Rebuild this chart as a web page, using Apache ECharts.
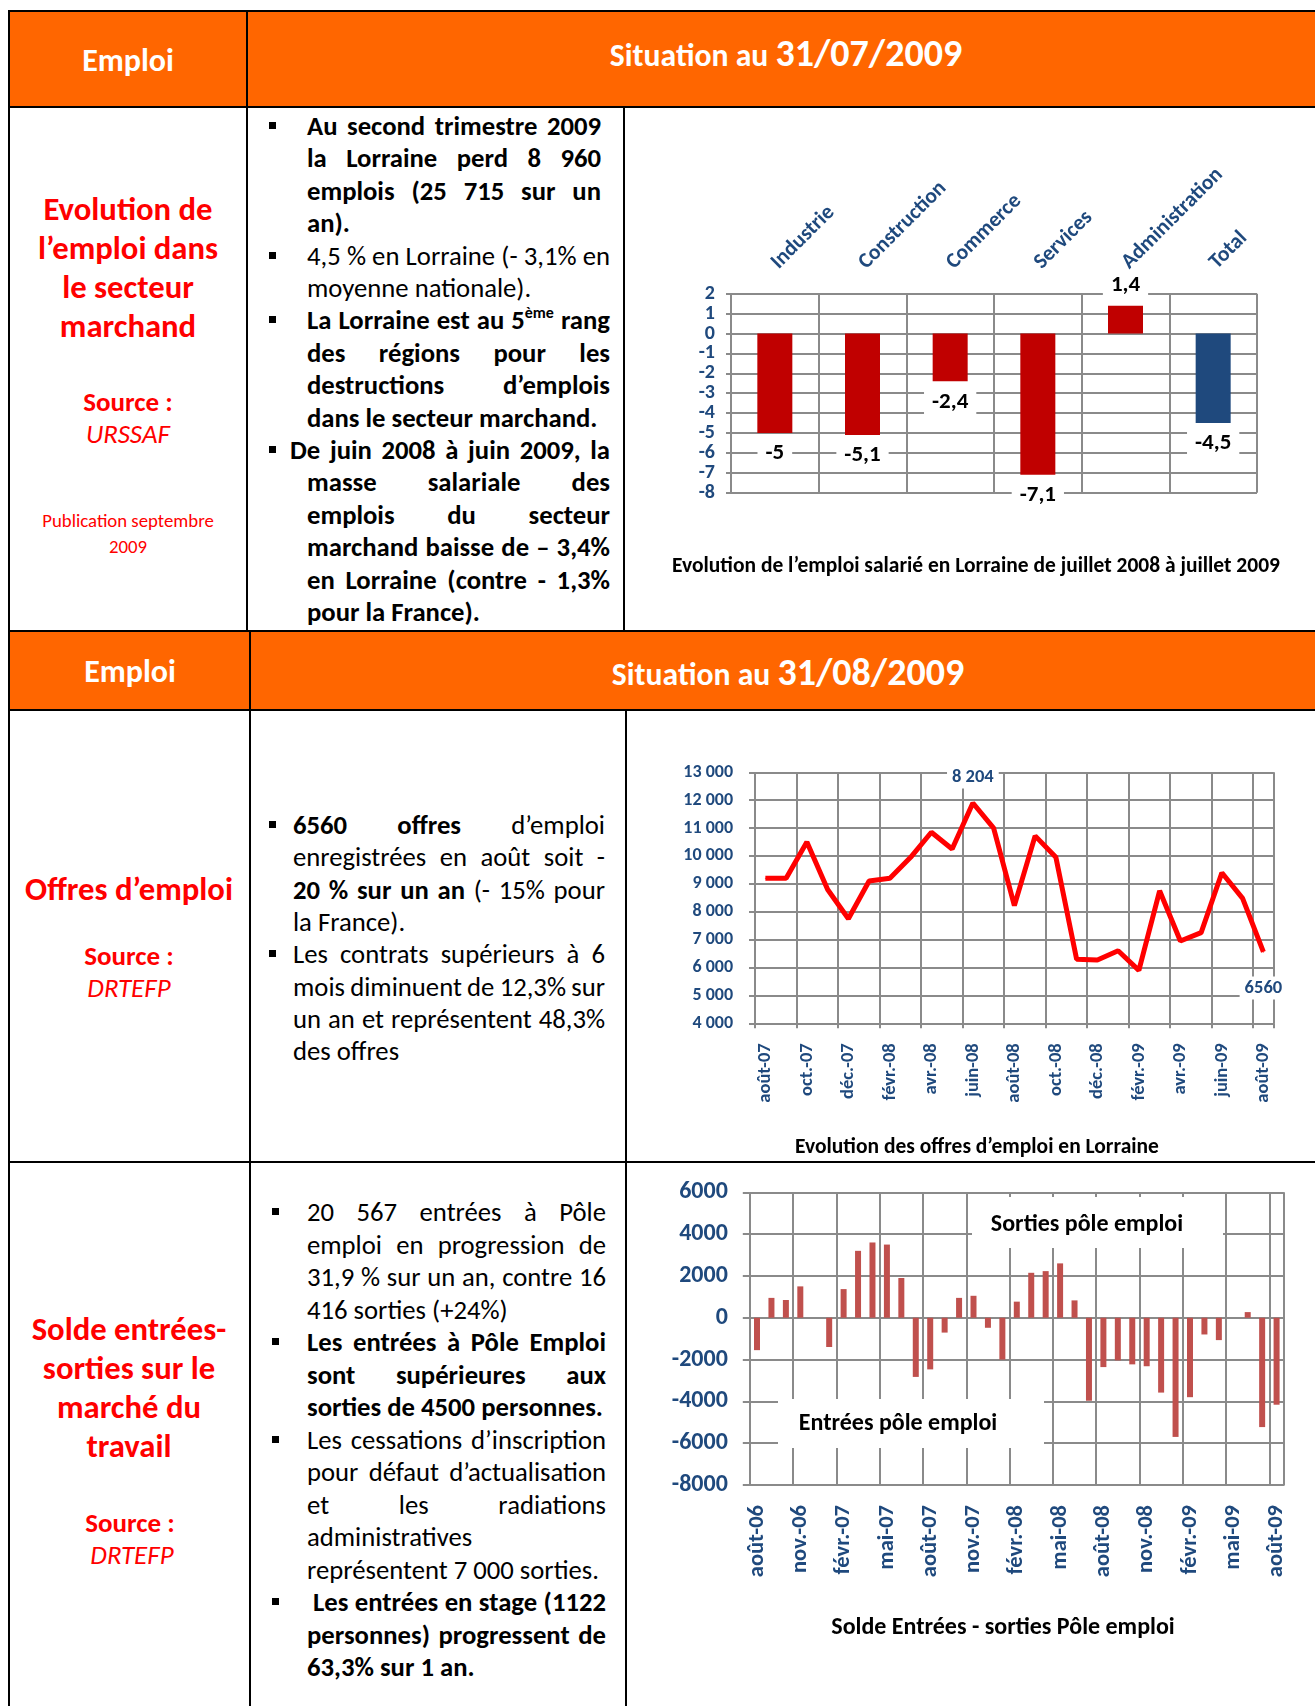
<!DOCTYPE html>
<html lang="fr">
<head>
<meta charset="utf-8">
<title>Emploi en Lorraine – 2009</title>
<script src="https://cdn.jsdelivr.net/npm/echarts@6/dist/echarts.min.js"></script>
<style>
  html, body { margin: 0; padding: 0; background: #fff; }
  body { width: 1315px; height: 1706px; position: relative; overflow: hidden;
         font-family: Carlito, Lato, "Open Sans", sans-serif; color: #000; }
  .orange { position: absolute; background: #ff6600; }
  .trait { position: absolute; background: #000; }
  .c { position: absolute; transform: translate(-50%, -50%); white-space: nowrap; text-align: center; line-height: 1; }
  .rouge { color: #ff0000; }
  .blanc { color: #fff; font-weight: bold; }
  .ln { position: absolute; white-space: nowrap; font-size: 26.7px; line-height: 32px; }
  .puce { position: absolute; width: 7px; height: 7px; background: #000; }
  .graph { position: absolute; }
  sup { font-size: 16px; line-height: 0; vertical-align: 11px; }
</style>
</head>
<body>

<!-- en-têtes orange -->
<div class="orange" style="left:9px;top:11px;width:1306px;height:96px"></div>
<div class="orange" style="left:9px;top:631px;width:1306px;height:79px"></div>

<!-- traits du tableau -->
<div class="trait" style="left:8px;top:10px;width:1307px;height:2px"></div>
<div class="trait" style="left:8px;top:106px;width:1307px;height:2px"></div>
<div class="trait" style="left:8px;top:630px;width:1307px;height:2px"></div>
<div class="trait" style="left:8px;top:709px;width:1307px;height:2px"></div>
<div class="trait" style="left:8px;top:1161px;width:1307px;height:2px"></div>
<div class="trait" style="left:8px;top:10px;width:2px;height:1696px"></div>
<div class="trait" style="left:246px;top:10px;width:2px;height:621px"></div>
<div class="trait" style="left:623px;top:107px;width:2px;height:524px"></div>
<div class="trait" style="left:249px;top:631px;width:2px;height:1075px"></div>
<div class="trait" style="left:625px;top:710px;width:2px;height:996px"></div>

<!-- textes des en-têtes -->
<div class="c blanc" style="left:128px;top:61px;font-size:32px">Emploi</div>
<div class="c blanc" style="left:786px;top:53px;font-size:31.7px">Situation au <span style="font-size:38px">31/07/2009</span></div>
<div class="c blanc" style="left:130px;top:672px;font-size:32px">Emploi</div>
<div class="c blanc" style="left:788px;top:672px;font-size:31.7px">Situation au <span style="font-size:38px">31/08/2009</span></div>

<!-- colonne de gauche -->
<div class="c rouge" style="left:128px;top:209px;font-size:32.7px;font-weight:bold">Evolution de</div>
<div class="c rouge" style="left:128px;top:248px;font-size:32.7px;font-weight:bold">l’emploi dans</div>
<div class="c rouge" style="left:128px;top:287px;font-size:32.7px;font-weight:bold">le secteur</div>
<div class="c rouge" style="left:128px;top:326px;font-size:32.7px;font-weight:bold">marchand</div>
<div class="c rouge" style="left:128px;top:401px;font-size:27px;font-weight:bold">Source :</div>
<div class="c rouge" style="left:128px;top:433px;font-size:27px;font-style:italic">URSSAF</div>
<div class="c rouge" style="left:128px;top:521px;font-size:18.8px">Publication septembre</div>
<div class="c rouge" style="left:128px;top:547px;font-size:18.8px">2009</div>

<div class="c rouge" style="left:129px;top:889px;font-size:32.7px;font-weight:bold">Offres d’emploi</div>
<div class="c rouge" style="left:129px;top:955px;font-size:27px;font-weight:bold">Source :</div>
<div class="c rouge" style="left:129px;top:987px;font-size:27px;font-style:italic">DRTEFP</div>

<div class="c rouge" style="left:129px;top:1329px;font-size:32.7px;font-weight:bold">Solde entrées-</div>
<div class="c rouge" style="left:129px;top:1368px;font-size:32.7px;font-weight:bold">sorties sur le</div>
<div class="c rouge" style="left:129px;top:1407px;font-size:32.7px;font-weight:bold">marché du</div>
<div class="c rouge" style="left:129px;top:1446px;font-size:32.7px;font-weight:bold">travail</div>
<div class="c rouge" style="left:130px;top:1522px;font-size:27px;font-weight:bold">Source :</div>
<div class="c rouge" style="left:132px;top:1554px;font-size:27px;font-style:italic">DRTEFP</div>

<!-- graphiques -->
<div id="g1" class="graph" style="left:625px;top:108px;width:690px;height:522px"></div>
<div id="g2" class="graph" style="left:627px;top:711px;width:688px;height:450px"></div>
<div id="g3" class="graph" style="left:627px;top:1163px;width:688px;height:543px"></div>

<script>
// ─── Données ─────────────────────────────────────────────

// Evolution de l'emploi salarié (%), juillet 2008 → juillet 2009
const secteurs = ["Industrie", "Construction", "Commerce", "Services", "Administration", "Total"];
const evolEmploi = [-5, -5.1, -2.4, -7.1, 1.4, -4.5];

// Offres d'emploi enregistrées, août 2007 → août 2009
const moisOffres = [
  "août-07", "sept.-07", "oct.-07", "nov.-07", "déc.-07", "janv.-08", "févr.-08",
  "mars-08", "avr.-08", "mai-08", "juin-08", "juil.-08", "août-08", "sept.-08",
  "oct.-08", "nov.-08", "déc.-08", "janv.-09", "févr.-09", "mars-09", "avr.-09",
  "mai-09", "juin-09", "juil.-09", "août-09"
];
const offres = [
  9200, 9200, 10500, 8800, 7750, 9100, 9200, 9950, 10850, 10250, 11900, 11000, 8220,
  10720, 9950, 6300, 6270, 6600, 5900, 8750, 6950, 7250, 9400, 8480, 6560
];
// étiquettes affichées sur la courbe (indice → texte)
const offresEtiquettes = { 10: "8 204", 24: "6560" };

// Solde entrées - sorties Pôle emploi, août 2006 → août 2009
const moisSolde = [
  "août-06", "sept.-06", "oct.-06", "nov.-06", "déc.-06", "janv.-07", "févr.-07",
  "mars-07", "avr.-07", "mai-07", "juin-07", "juil.-07", "août-07", "sept.-07",
  "oct.-07", "nov.-07", "déc.-07", "janv.-08", "févr.-08", "mars-08", "avr.-08",
  "mai-08", "juin-08", "juil.-08", "août-08", "sept.-08", "oct.-08", "nov.-08",
  "déc.-08", "janv.-09", "févr.-09", "mars-09", "avr.-09", "mai-09", "juin-09",
  "juil.-09", "août-09"
];
const solde = [
  -1550, 950, 850, 1500, 0, -1400, 1370, 3200, 3600, 3500, 1900, -2830, -2470,
  -710, 950, 1050, -480, -2000, 770, 2150, 2230, 2600, 830, -3970, -2360, -2040,
  -2230, -2320, -3580, -5700, -3800, -800, -1070, 0, 270, -5230, -4160
];

// ─── Textes de la colonne du milieu ──────────────────────
// [texte, justifié]
const bloc1 = [
  { gauche: 307, droite: 601, gras: true, lignes: [
    ["Au second trimestre 2009", 1], ["la Lorraine perd 8 960", 1],
    ["emplois (25 715 sur un", 1], ["an).", 0]] },
  { gauche: 307, droite: 610, gras: false, lignes: [
    ["4,5 % en Lorraine (- 3,1% en", 1], ["moyenne nationale).", 0]] },
  { gauche: 307, droite: 610, gras: true, lignes: [
    ["La Lorraine est au 5<sup>ème</sup> rang", 1], ["des régions pour les", 1],
    ["destructions d’emplois", 1], ["dans le secteur marchand.", 0]] },
  { gauche: 307, premiere: 290, droite: 610, gras: true, lignes: [
    ["De juin 2008 à juin 2009, la", 1], ["masse salariale des", 1],
    ["emplois du secteur", 1], ["marchand baisse de – 3,4%", 1],
    ["en Lorraine (contre - 1,3%", 1], ["pour la France).", 0]] }
];
const bloc2 = [
  { gauche: 293, droite: 605, gras: false, lignes: [
    ["<b>6560</b> <b>offres</b> d’emploi", 1], ["enregistrées en août soit -", 1],
    ["<b>20 % sur un an</b> (- 15% pour", 1], ["la France).", 0]] },
  { gauche: 293, droite: 605, gras: false, lignes: [
    ["Les contrats supérieurs à 6", 1], ["mois diminuent de 12,3% sur", 1],
    ["un an et représentent 48,3%", 1], ["des offres", 0]] }
];
const bloc3 = [
  { gauche: 307, droite: 606, gras: false, lignes: [
    ["20 567 entrées à Pôle", 1], ["emploi en progression de", 1],
    ["31,9 % sur un an, contre 16", 1], ["416 sorties (+24%)", 0]] },
  { gauche: 307, droite: 606, gras: true, lignes: [
    ["Les entrées à Pôle Emploi", 1], ["sont supérieures aux", 1],
    ["sorties de 4500 personnes.", 0]] },
  { gauche: 307, droite: 606, gras: false, lignes: [
    ["Les cessations d’inscription", 1], ["pour défaut d’actualisation", 1],
    ["et les radiations", 1], ["administratives", 0], ["représentent 7 000 sorties.", 0]] },
  { gauche: 307, premiere: 313, droite: 606, gras: true, lignes: [
    ["Les entrées en stage (1122", 1], ["personnes) progressent de", 1],
    ["63,3% sur 1 an.", 0]] }
];

// pose les lignes d'un bloc puis justifie celles qui doivent l'être
function poserBloc(paras, y0, pas, puceX) {
  let y = y0;
  paras.forEach(p => {
    const puce = document.createElement("div");
    puce.className = "puce";
    puce.style.left = (puceX - 3.5) + "px";
    puce.style.top = (y - 4) + "px";
    document.body.appendChild(puce);
    p.lignes.forEach(([html, just], i) => {
      const el = document.createElement("div");
      el.className = "ln";
      const x = (i === 0 && p.premiere) ? p.premiere : p.gauche;
      el.style.left = x + "px";
      el.style.top = (y - 16) + "px";
      if (p.gras) el.style.fontWeight = "bold";
      el.innerHTML = html;
      document.body.appendChild(el);
      if (just) {
        const w = el.getBoundingClientRect().width;
        const n = el.textContent.trim().split(/\s+/).length - 1;
        if (n > 0) el.style.wordSpacing = ((p.droite - x - w) / n) + "px";
      }
      y += pas;
    });
  });
}
poserBloc(bloc1, 126, 32.4, 272);
poserBloc(bloc2, 825, 32.3, 272);
poserBloc(bloc3, 1212, 32.5, 275);

// ─── Graphiques ──────────────────────────────────────────

const FONT = 'Carlito, Lato, "Open Sans", sans-serif';
const BLEU = "#1f497d";
const GRILLE = { color: "#8a8a8a", width: 2 };

function milliers(v) {
  return String(v).replace(/\B(?=(\d{3})+(?!\d))/g, " ");
}

// 1. évolution de l'emploi par secteur
const c1 = echarts.init(document.getElementById("g1"), null, { renderer: "canvas" });
c1.setOption({
  animation: false,
  textStyle: { fontFamily: FONT },
  grid: { left: 106, top: 185.7, width: 526, height: 199 },
  xAxis: {
    type: "category", position: "top", data: secteurs,
    axisLine: { show: false }, axisTick: { show: false },
    splitLine: { show: true, lineStyle: GRILLE },
    axisLabel: { rotate: 45, margin: 28, color: BLEU, fontWeight: "bold", fontSize: 21.5, fontFamily: FONT }
  },
  yAxis: {
    type: "value", min: -8, max: 2, interval: 1,
    axisLine: { show: false },
    axisTick: { show: true, length: 5, lineStyle: GRILLE },
    splitLine: { lineStyle: GRILLE },
    axisLabel: {
      margin: 16, color: BLEU, fontWeight: "bold", fontSize: 20, fontFamily: FONT,
      showMinLabel: true, showMaxLabel: true
    }
  },
  series: [{
    type: "bar", barWidth: 35,
    data: evolEmploi.map((v, i) => ({
      value: v,
      itemStyle: { color: i === secteurs.length - 1 ? BLEU : "#c00000" },
      label: { position: v < 0 ? "bottom" : "top" }
    })),
    label: {
      show: true, distance: 6, color: "#000", fontWeight: "bold", fontSize: 23, fontFamily: FONT,
      backgroundColor: "#fff", padding: [3, 8],
      formatter: p => String(p.value).replace(".", ",")
    }
  }],
  graphic: [{
    type: "text", x: 351, y: 459,
    style: {
      text: "Evolution de l’emploi salarié en Lorraine de juillet 2008 à juillet 2009",
      align: "center", verticalAlign: "middle", fill: "#000",
      font: "bold 21.5px " + FONT
    }
  }]
});

// 2. offres d'emploi
const c2 = echarts.init(document.getElementById("g2"), null, { renderer: "canvas" });
c2.setOption({
  animation: false,
  textStyle: { fontFamily: FONT },
  grid: { left: 128, top: 61.3, width: 518.75, height: 251 },
  xAxis: {
    type: "category", data: moisOffres, boundaryGap: true,
    axisLine: { show: true, lineStyle: GRILLE },
    axisTick: { show: true, interval: 1, length: 5, lineStyle: GRILLE },
    splitLine: { show: true, interval: 1, lineStyle: GRILLE },
    axisLabel: { interval: 1, rotate: 90, margin: 20, color: BLEU, fontWeight: "bold", fontSize: 18.5, fontFamily: FONT }
  },
  yAxis: {
    type: "value", min: 4000, max: 13000, interval: 1000,
    axisLine: { show: false },
    axisTick: { show: true, length: 6, lineStyle: GRILLE },
    splitLine: { lineStyle: GRILLE },
    axisLabel: { margin: 22, color: BLEU, fontWeight: "bold", fontSize: 18, fontFamily: FONT, formatter: milliers }
  },
  series: [{
    type: "line", symbol: "circle", symbolSize: 1, showAllSymbol: true,
    itemStyle: { color: "#ff0000" },
    lineStyle: { color: "#ff0000", width: 5 },
    data: offres.map((v, i) => offresEtiquettes[i] === undefined ? v : {
      value: v,
      label: {
        show: true, position: i === offres.length - 1 ? "bottom" : "top",
        distance: i === offres.length - 1 ? 24 : 14,
        formatter: offresEtiquettes[i]
      }
    }),
    label: {
      show: false, color: BLEU, fontWeight: "bold", fontSize: 18.5, fontFamily: FONT,
      backgroundColor: "#fff", padding: [2, 5]
    }
  }],
  graphic: [{
    type: "text", x: 350, y: 436.5,
    style: {
      text: "Evolution des offres d’emploi en Lorraine",
      align: "center", verticalAlign: "middle", fill: "#000",
      font: "bold 21.5px " + FONT
    }
  }]
});

// 3. solde entrées - sorties
const c3 = echarts.init(document.getElementById("g3"), null, { renderer: "canvas" });
c3.setOption({
  animation: false,
  textStyle: { fontFamily: FONT },
  grid: { left: 122.8, top: 29.3, width: 534, height: 292.7 },
  xAxis: {
    type: "category", data: moisSolde, boundaryGap: true,
    axisLine: { show: true, onZero: false, lineStyle: GRILLE },
    axisTick: { show: false, interval: 2 },
    splitLine: { show: true, interval: 2, lineStyle: GRILLE },
    axisLabel: { interval: 2, rotate: 90, margin: 20, color: BLEU, fontWeight: "bold", fontSize: 22.5, fontFamily: FONT }
  },
  yAxis: {
    type: "value", min: -8000, max: 6000, interval: 2000,
    axisLine: { show: false },
    axisTick: { show: true, length: 7, lineStyle: GRILLE },
    splitLine: { lineStyle: GRILLE },
    axisLabel: { margin: 22, color: BLEU, fontWeight: "bold", fontSize: 24, fontFamily: FONT, formatter: v => String(v) }
  },
  series: [{
    type: "bar", barWidth: 6, data: solde,
    itemStyle: { color: "#c0504d" }
  }],
  graphic: [
    { type: "rect", shape: { x: 345, y: 34, width: 251, height: 51 }, style: { fill: "#fff" }, z: 100 },
    { type: "text", x: 460, y: 62, z: 101,
      style: { text: "Sorties pôle emploi", align: "center", verticalAlign: "middle", fill: "#000", font: "bold 24px " + FONT } },
    { type: "rect", shape: { x: 151, y: 236, width: 266, height: 49 }, style: { fill: "#fff" }, z: 100 },
    { type: "text", x: 271, y: 261, z: 101,
      style: { text: "Entrées pôle emploi", align: "center", verticalAlign: "middle", fill: "#000", font: "bold 24px " + FONT } },
    { type: "text", x: 376, y: 465,
      style: { text: "Solde Entrées - sorties Pôle emploi", align: "center", verticalAlign: "middle", fill: "#000", font: "bold 24px " + FONT } }
  ]
});
</script>
</body>
</html>
